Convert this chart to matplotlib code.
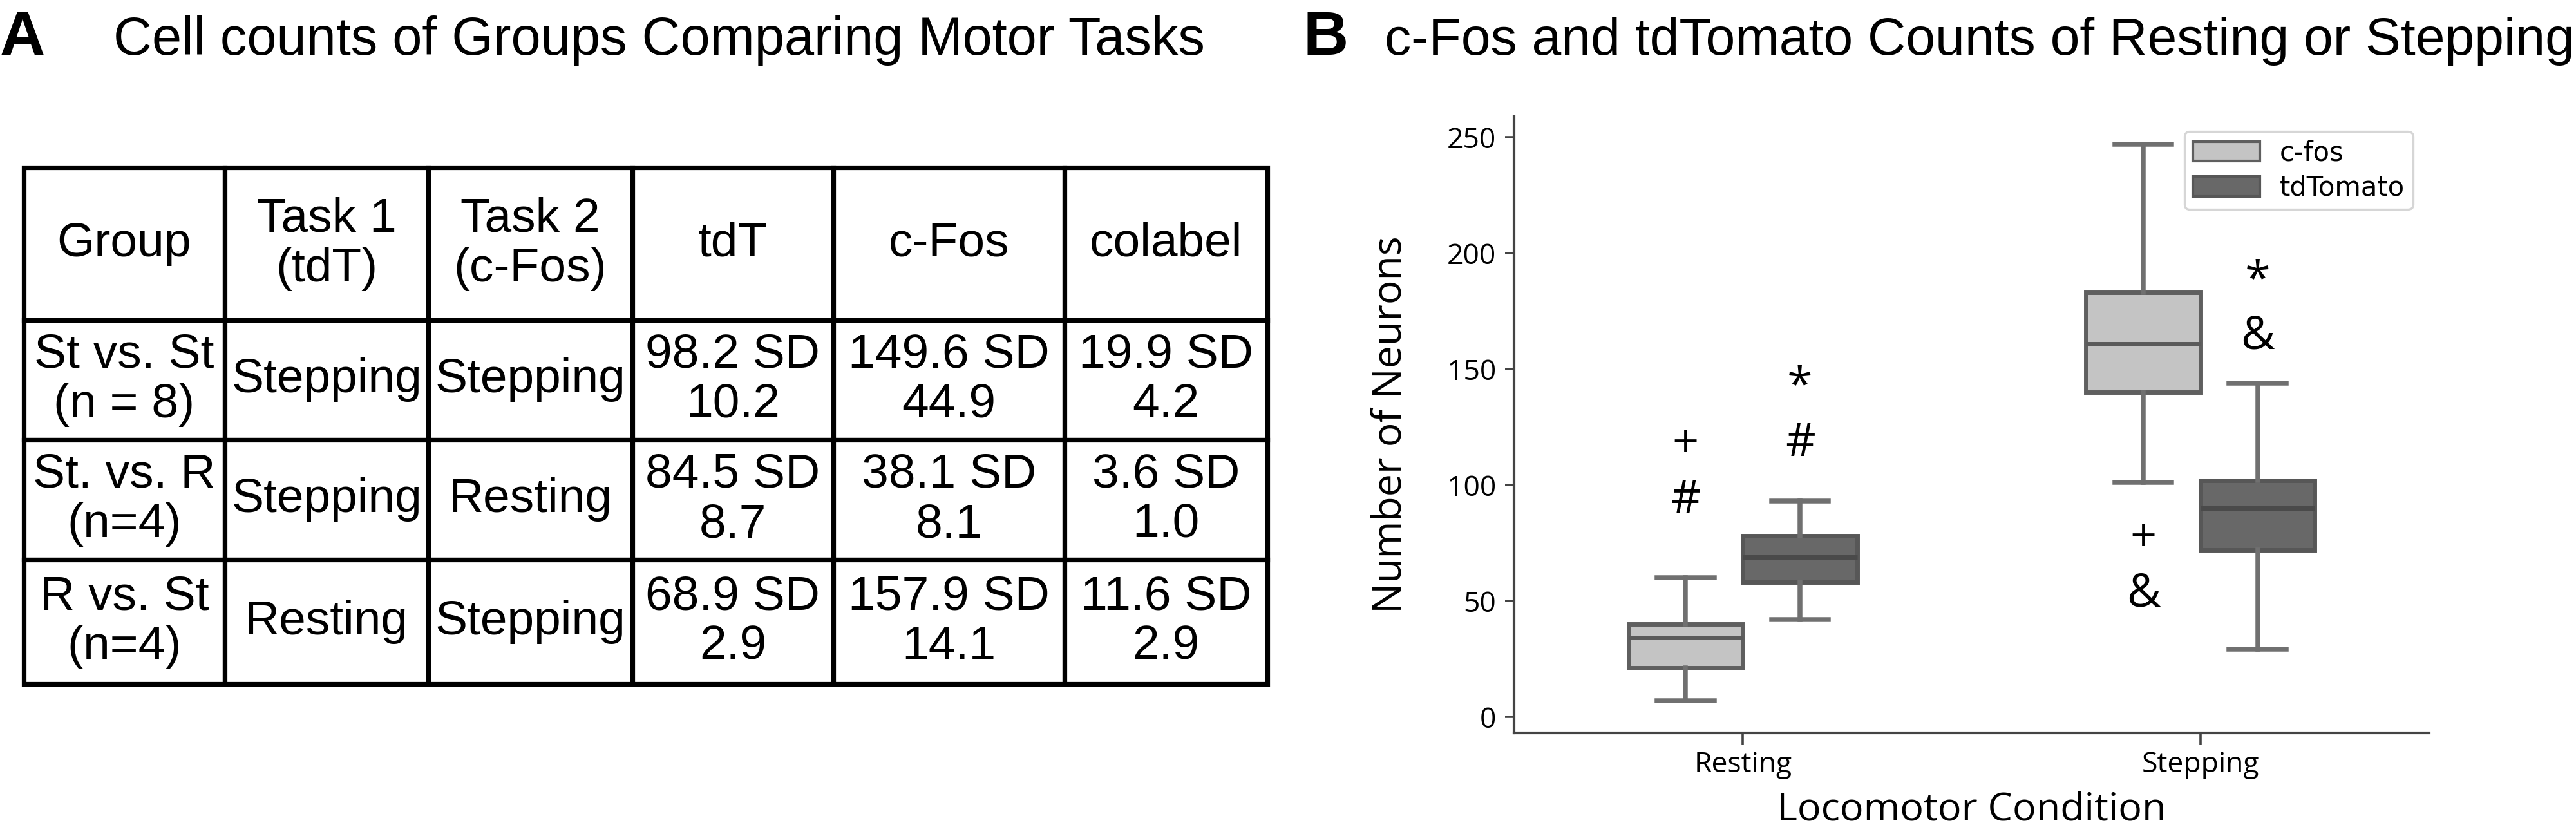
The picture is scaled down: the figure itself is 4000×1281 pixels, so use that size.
import matplotlib
matplotlib.use("Agg")
import matplotlib.pyplot as plt
from matplotlib.patches import Patch

# ---- panel A: table values ----
col_labels = ["Group", "Task 1\n(tdT)", "Task 2\n(c-Fos)", "tdT", "c-Fos", "colabel"]
groups = ["St vs. St\n(n = 8)", "St. vs. R\n(n=4)", "R vs. St\n(n=4)"]
task1 = ["Stepping", "Stepping", "Resting"]
task2 = ["Stepping", "Resting", "Stepping"]
tdt_mean = [98.2, 84.5, 68.9]
tdt_sd = [10.2, 8.7, 2.9]
cfos_mean = [149.6, 38.1, 157.9]
cfos_sd = [44.9, 8.1, 14.1]
colabel_mean = [19.9, 3.6, 11.6]
colabel_sd = [4.2, 1.0, 2.9]

# ---- panel B: box statistics (Resting, Stepping) ----
conditions = ["Resting", "Stepping"]
markers = ["c-fos", "tdTomato"]
cfos_lo = [7, 101]
cfos_q1 = [21, 140]
cfos_med = [34, 161]
cfos_q3 = [40, 183]
cfos_hi = [60, 247]
tdt_lo = [42, 29]
tdt_q1 = [58, 72]
tdt_med = [69, 90]
tdt_q3 = [78, 102]
tdt_hi = [93, 144]

# significance symbols (lower, upper) and their baselines
cfos_sig = [["#", "+"], ["&", "+"]]
cfos_sig_y = [[88, 112], [47.5, 71.5]]
tdt_sig = [["#", "*"], ["&", "*"]]
tdt_sig_y = [[112.5, 137], [158.7, 182.7]]

table_font = "Liberation Sans"
plot_font = ["Open Sans", "DejaVu Sans"]

fig = plt.figure(figsize=(20, 6.405), dpi=200)

# ---- titles ----
fig.text(0.0, 0.9336, "A", fontsize=35, fontweight="bold", family=table_font)
fig.text(0.044, 0.9336, "Cell counts of Groups Comparing Motor Tasks",
         fontsize=29.9, family=table_font)
fig.text(0.506, 0.9336, "B", fontsize=35, fontweight="bold", family=table_font)
fig.text(0.5375, 0.9336, "c-Fos and tdTomato Counts of Resting or Stepping",
         fontsize=29.6, family=table_font)

# ---- panel A table ----
ax_t = fig.add_axes([0, 0, 1, 1])
ax_t.axis("off")
rows = [col_labels]
for i in range(len(groups)):
    rows.append([groups[i], task1[i], task2[i],
                 f"{tdt_mean[i]:.1f} SD\n{tdt_sd[i]:.1f}",
                 f"{cfos_mean[i]:.1f} SD\n{cfos_sd[i]:.1f}",
                 f"{colabel_mean[i]:.1f} SD\n{colabel_sd[i]:.1f}"])
col_w = [312, 316, 317, 312, 359, 315]
row_h = [237, 186, 186, 193]
tab = ax_t.table(cellText=rows, cellLoc="center", colWidths=col_w,
                 bbox=[37 / 4000, 1 - 1062 / 1281, 1931 / 4000, 802 / 1281])
tab.auto_set_font_size(False)
tab.set_fontsize(27)
for (r, c), cell in tab.get_celld().items():
    cell.set_height(row_h[r])
    cell.set_linewidth(2.6)
    cell.set_edgecolor("black")
    cell.get_text().set_fontfamily(table_font)
    cell.get_text().set_linespacing(1.15)

# ---- panel B box plot ----
ax = fig.add_axes([0.58775, 0.11163, 0.35525, 0.74707])
off = 0.125
stats_c = [dict(whislo=cfos_lo[i], q1=cfos_q1[i], med=cfos_med[i], q3=cfos_q3[i],
                whishi=cfos_hi[i], fliers=[]) for i in range(2)]
stats_t = [dict(whislo=tdt_lo[i], q1=tdt_q1[i], med=tdt_med[i], q3=tdt_q3[i],
                whishi=tdt_hi[i], fliers=[]) for i in range(2)]

ax.bxp(stats_c, positions=[i - off for i in range(2)], widths=0.25, capwidths=0.125,
       patch_artist=True, showfliers=False,
       boxprops=dict(facecolor="#c4c4c4", edgecolor="#5f5f5f", linewidth=2.5),
       whiskerprops=dict(color="#707070", linewidth=2.7),
       capprops=dict(color="#707070", linewidth=2.7),
       medianprops=dict(color="#5a5a5a", linewidth=2.5))
ax.bxp(stats_t, positions=[i + off for i in range(2)], widths=0.25, capwidths=0.125,
       patch_artist=True, showfliers=False,
       boxprops=dict(facecolor="#686868", edgecolor="#575757", linewidth=2.5),
       whiskerprops=dict(color="#707070", linewidth=2.7),
       capprops=dict(color="#707070", linewidth=2.7),
       medianprops=dict(color="#4a4a4a", linewidth=2.5))

for i in range(2):
    for s, y in zip(cfos_sig[i], cfos_sig_y[i]):
        ax.text(i - off, y, s, ha="center", va="baseline", fontsize=26, family=plot_font)
    for s, y in zip(tdt_sig[i], tdt_sig_y[i]):
        ax.text(i + off, y, s, ha="center", va="baseline", fontsize=26, family=plot_font)

ax.set_xlim(-0.5, 1.5)
ax.set_ylim(-7, 259)
ax.set_xticks(range(2))
ax.set_xticklabels(conditions, family=plot_font, fontsize=16)
ax.set_yticks([0, 50, 100, 150, 200, 250])
ax.set_yticklabels(["0", "50", "100", "150", "200", "250"], family=plot_font, fontsize=16)
ax.tick_params(axis="y", length=5, width=1.3, color="#444444", pad=5)
ax.tick_params(axis="x", length=7, width=1.3, color="#444444", pad=3)
for side in ["top", "right"]:
    ax.spines[side].set_visible(False)
for side in ["left", "bottom"]:
    ax.spines[side].set_color("#444444")
    ax.spines[side].set_linewidth(1.5)

ax.set_ylabel("Number of Neurons", family=plot_font, fontsize=22.5)
ax.yaxis.set_label_coords(-0.113, 0.5)
ax.set_xlabel("Locomotor Condition", family=plot_font, fontsize=22)
ax.xaxis.set_label_coords(0.5, -0.094)

handles = [Patch(facecolor="#c4c4c4", edgecolor="#5f5f5f", linewidth=1.5),
           Patch(facecolor="#686868", edgecolor="#575757", linewidth=1.5)]
leg = ax.legend(handles, markers, loc="upper left", bbox_to_anchor=(0.7326, 0.976),
                borderaxespad=0, prop={"family": "DejaVu Sans", "size": 15},
                handlelength=2.5, handleheight=0.74, handletextpad=0.75,
                labelspacing=0.3, borderpad=0.3, frameon=True, fancybox=True)
leg.get_frame().set_edgecolor("#cccccc")
leg.get_frame().set_linewidth(1.2)

fig.savefig("out.png", dpi=200)
